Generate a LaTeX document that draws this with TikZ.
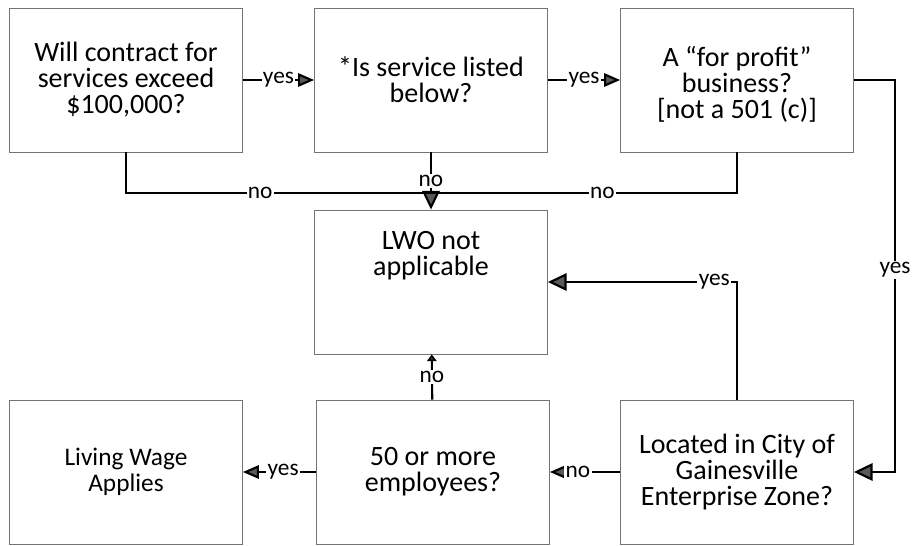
\documentclass[tikz,border=0pt]{standalone}
\usepackage{fontspec}
\setmainfont{Carlito}
\usetikzlibrary{arrows.meta}
\definecolor{tipgray}{gray}{0.35}
\definecolor{boxgray}{gray}{0.45}
\tikzset{
  box/.style={draw=boxgray, line width=0.6pt, minimum width=174.75pt, minimum height=108pt,
    inner sep=0pt, align=center, font=\fontsize{21}{19.5}\selectfont},
  boxtext/.style={inner sep=0pt, align=center, font=\fontsize{21}{19.5}\selectfont},
  lbl/.style={fill=white, inner sep=1pt, font=\fontsize{17.5}{18}\selectfont},
  conn/.style={line width=1.6pt},
  arr/.style={conn, -{Triangle[length=12pt,width=10pt,fill=tipgray]}},
  bigarr/.style={conn, -{Triangle[length=14pt,width=13pt,fill=tipgray]}},
  smallarr/.style={conn, -{Triangle[length=5pt,width=7pt,fill=tipgray]}}
}
\begin{document}
\begin{tikzpicture}[x=0.75pt,y=-0.75pt]
  \useasboundingbox (0,0) rectangle (914,546);
  % top row
  \node[box] (contract) at (126,80) {Will contract for\\services exceed\\\$100,000?};
  \node[box] (listed) at (431,80) {*Is service listed\\below?};
  \node[box] (profit) at (737,80) {};
  \node[boxtext] (profittext) at (737,84) {A “for profit”\\business?\\{[not a 501 (c)]}};
  % middle
  \node[box] (lwo) at (431,282) {};
  \node[boxtext] (lwotext) at (431,256) {LWO not\\applicable};
  % bottom row
  \node[box, font=\fontsize{19}{19.5}\selectfont] (wage) at (126,472) {Living Wage\\Applies};
  \node[box] (employees) at (433,472) {50 or more\\employees?};
  \node[box] (zone) at (737,472) {Located in City of\\Gainesville\\Enterprise Zone?};
  % connectors
  \coordinate (join) at (431,193);
  \coordinate (side) at (895,270);
  \draw[arr] (contract) -- node[lbl] {yes} (listed);
  \draw[arr] (listed) -- node[lbl] {yes} (profit);
  \draw[bigarr] (listed) -- node[lbl] {no} (lwo);
  \draw[conn] (contract.south) |- node[lbl, pos=0.72] {no} (join);
  \draw[conn] (profit.south) |- node[lbl, pos=0.72] {no} (join);
  \draw[bigarr] (profit.east) -| (side) node[lbl] {yes} |- (zone.east);
  \draw[bigarr] (zone.north) |- node[lbl, pos=0.56] {yes} (lwo.east);
  \draw[arr] (zone) -- node[lbl, pos=0.6] {no} (employees);
  \draw[smallarr] (employees) -- node[lbl] {no} (lwo);
  \draw[arr] (employees) -- node[lbl, pos=0.45] {yes} (wage);
\end{tikzpicture}
\end{document}
